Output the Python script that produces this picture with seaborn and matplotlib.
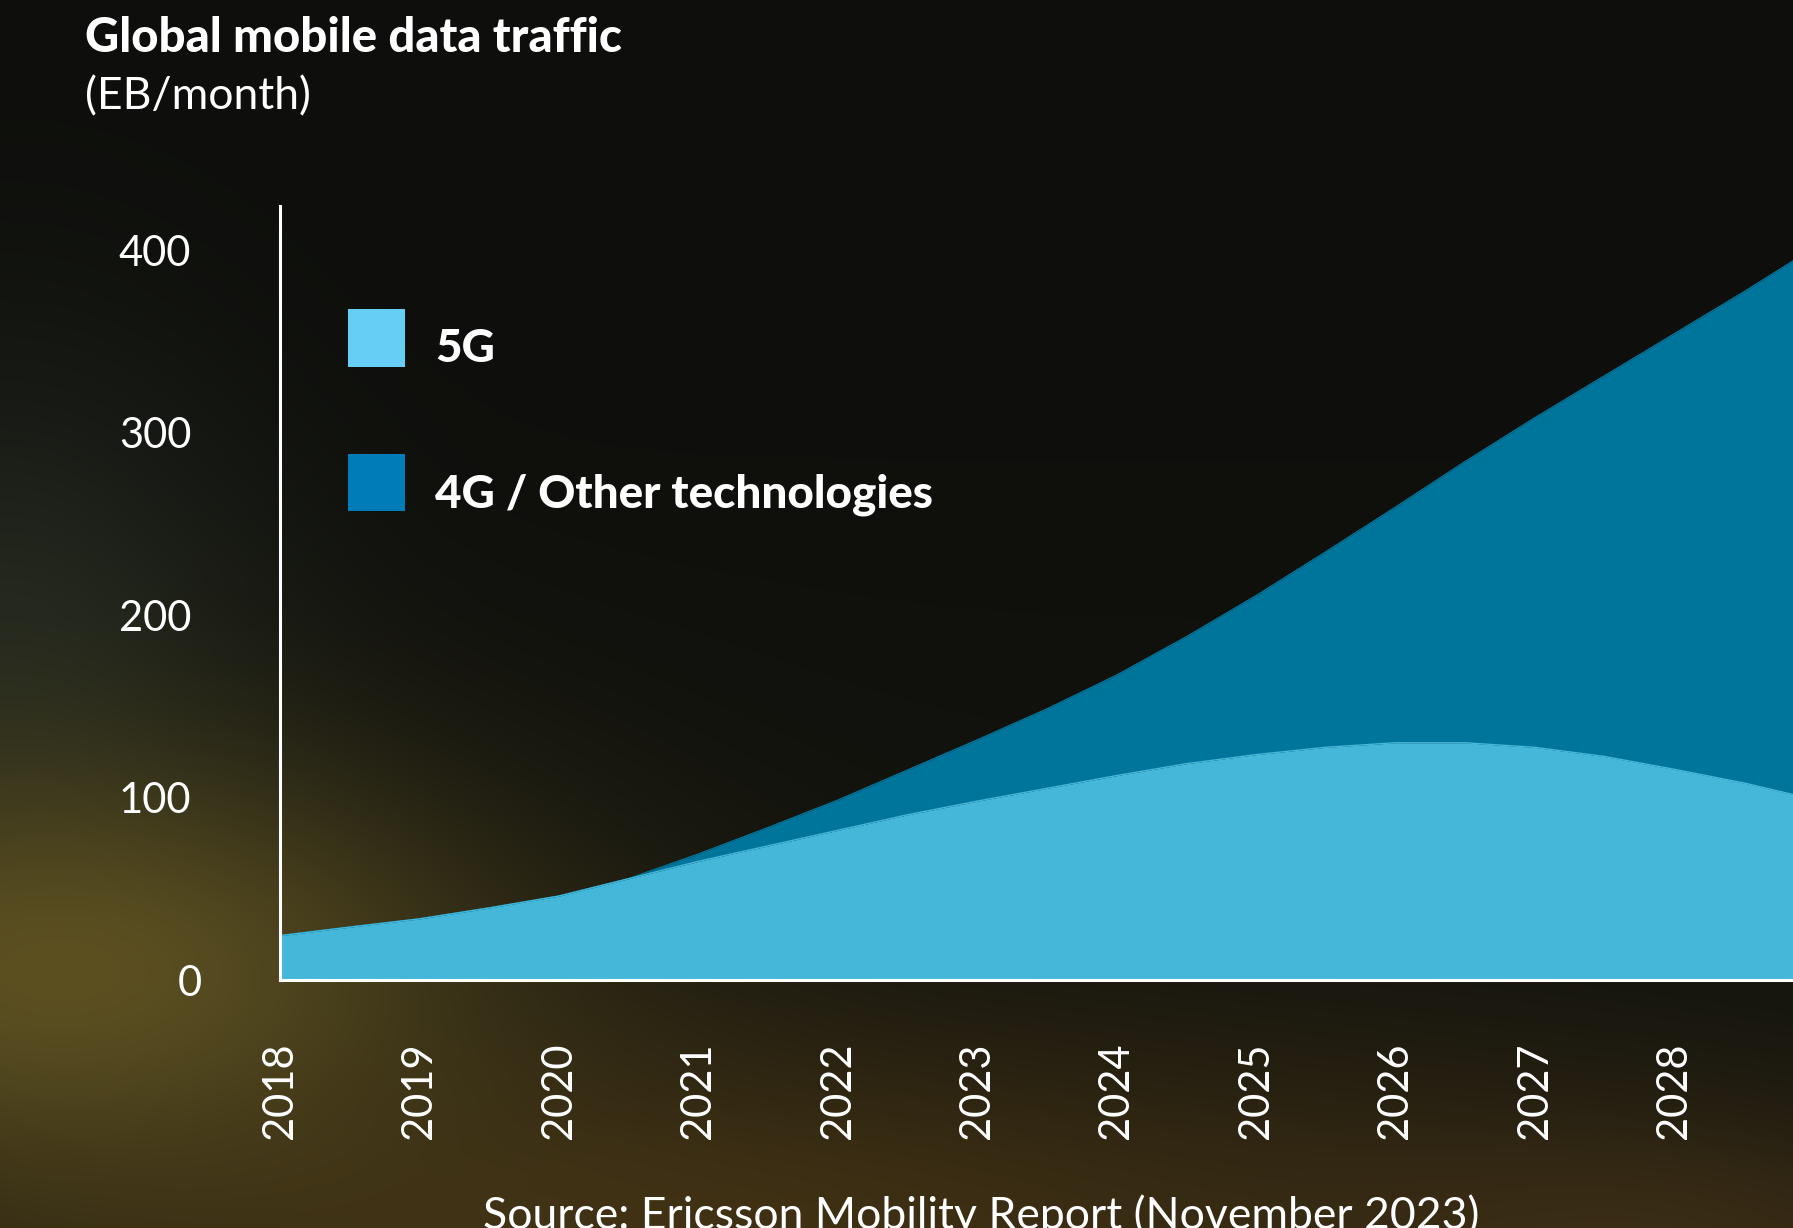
import numpy as np
import matplotlib
matplotlib.use("Agg")
import matplotlib.pyplot as plt
import matplotlib.transforms as mtransforms
from matplotlib.patches import Rectangle
import seaborn as sns

# ---------------- data ----------------
years = [2018.0, 2018.5, 2019.0, 2019.5, 2020.0, 2020.5, 2021.0, 2021.5,
         2022.0, 2022.5, 2023.0, 2023.5, 2024.0, 2024.5, 2025.0, 2025.5,
         2026.0, 2026.5, 2027.0, 2027.5, 2028.0, 2028.5, 2029.0]
# lower (light blue) layer
lower_layer = [24.3, 29.0, 33.5, 39.5, 46.0, 55.5, 65.0, 73.5,
               82.0, 90.5, 98.0, 105.0, 112.0, 118.5, 123.5, 127.5,
               130.0, 130.0, 127.5, 122.5, 115.5, 108.0, 99.0]
# stacked total (top of the dark blue layer)
stack_total = [24.3, 29.0, 33.5, 39.5, 46.0, 55.5, 69.0, 83.5,
               98.5, 115.0, 131.5, 148.5, 167.0, 188.0, 210.5, 234.5,
               259.0, 284.0, 308.0, 331.0, 354.0, 377.0, 401.0]
tick_years = [2018, 2019, 2020, 2021, 2022, 2023, 2024, 2025, 2026, 2027, 2028]
y_ticks = [0, 100, 200, 300, 400]
legend_labels = ["5G", "4G / Other technologies"]

# ---------------- styles ----------------
LIGHT_FILL = "#45b8da"
DARK_FILL = "#00759c"
LEG_5G = "#66cdf5"
LEG_4G = "#007db8"
W, H = 1793, 1228

sns.set_style("white")
plt.rcParams["font.family"] = ["Lato", "DejaVu Sans"]

fig = plt.figure(figsize=(W / 100, H / 100), dpi=100)
fig.patch.set_facecolor("#0f100d")

# background glow
yy, xx = np.mgrid[0:H, 0:W].astype(float)
img = np.zeros((H, W, 3))
img[:] = np.array([14, 15, 12], float)
t = np.clip((yy - 300) / 900, 0, 1)[..., None]
img = img * (1 - 0.35 * t) + np.array([30, 30, 20]) * 0.35 * t

def blend(img, cx, cy, sx, sy, col, a=1.0):
    w = a * np.exp(-(((xx - cx) / sx) ** 2 + ((yy - cy) / sy) ** 2))[..., None]
    return img * (1 - w) + np.array(col, float) * w

img = blend(img, 0, 650, 260, 300, (38, 44, 34), 0.8)
img = blend(img, 700, 1240, 950, 220, (66, 50, 20), 0.95)
img = blend(img, 60, 970, 440, 220, (92, 80, 33), 1.0)
img = blend(img, 1650, 1260, 380, 140, (70, 52, 24), 0.7)
bg = fig.add_axes([0, 0, 1, 1], zorder=-10)
bg.imshow(np.clip(img, 0, 255).astype(np.uint8), aspect="auto",
          extent=(0, 1, 0, 1), origin="upper")
bg.axis("off")

# main axes
x0, x1, yb, yt = 280, 1793, 980, 206
ax = fig.add_axes([x0 / W, (H - yb) / H, (x1 - x0) / W, (yb - yt) / H])
ax.set_facecolor("none")

ax.fill_between(years, 0, lower_layer, color=LIGHT_FILL, linewidth=0, zorder=1)
ax.fill_between(years, lower_layer, stack_total, color=DARK_FILL, linewidth=0, zorder=1)
sns.lineplot(x=years, y=stack_total, ax=ax, color=DARK_FILL, linewidth=1.0, zorder=1.5)
sns.lineplot(x=years, y=lower_layer, ax=ax, color=LIGHT_FILL, linewidth=1.0, zorder=1.6)

px_per_unit = (yb - 250) / 400.0
ax.set_ylim(0, (yb - yt) / px_per_unit)
ax.set_xlim(2018, 2018 + (x1 - x0) / 139.4)

ax.set_yticks(y_ticks)
ax.set_yticklabels([str(v) for v in y_ticks])
ax.set_xticks(tick_years)
ax.set_xticklabels([str(v) for v in tick_years], rotation=90)
ax.tick_params(axis="y", length=0, pad=64, labelsize=30, labelcolor="white")
ax.tick_params(axis="x", length=0, pad=45, labelsize=30, labelcolor="white")
ax.set_xlabel("")
ax.set_ylabel("")
ax.grid(False)

# the "0" label sits a little further right in the reference
zero_lbl = ax.get_yticklabels()[0]
zero_lbl.set_transform(zero_lbl.get_transform() +
                       mtransforms.ScaledTranslation(11 / 100, 0, fig.dpi_scale_trans))

for s in ["top", "right"]:
    ax.spines[s].set_visible(False)
for s in ["left", "bottom"]:
    ax.spines[s].set_color("white")
    ax.spines[s].set_linewidth(2.2)
    ax.spines[s].set_zorder(3)

# titles
fig.text(85 / W, 1 - 52 / H, "Global mobile data traffic", color="white",
         fontsize=34, fontweight="black", va="baseline", ha="left")
fig.text(85 / W, 1 - 109 / H, "(EB/month)", color="white",
         fontsize=32, va="baseline", ha="left")

# legend (manual)
leg_rows = [(LEG_5G, 309, 367, 362), (LEG_4G, 454, 511, 508)]
for (col, top, bot, base), lab in zip(leg_rows, legend_labels):
    fig.add_artist(Rectangle((348 / W, 1 - bot / H), 57 / W, (bot - top) / H,
                             transform=fig.transFigure, facecolor=col,
                             edgecolor="none"))
    fig.text(435 / W, 1 - base / H, lab, color="white", fontsize=33,
             fontweight="black", va="baseline", ha="left")

# source
fig.text(981 / W, 1 - 1229 / H, "Source: Ericsson Mobility Report (November 2023)",
         color="white", fontsize=32, va="baseline", ha="center")

fig.savefig("out.png", dpi=100, facecolor=fig.get_facecolor())
